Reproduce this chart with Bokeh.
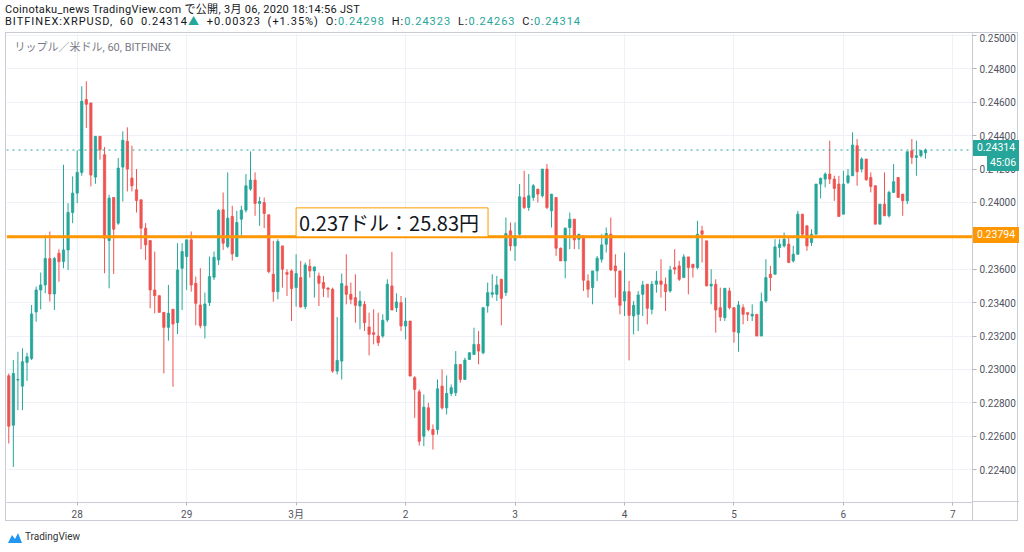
from bokeh.plotting import figure
from bokeh.models import Range1d, FixedTicker, NumeralTickFormatter, Span, Label, Div, ColumnDataSource
from bokeh.layouts import column
from bokeh.embed import file_html
from bokeh.resources import INLINE

# BITFINEX:XRPUSD hourly candles, Feb 27 09:00 .. Mar 6 18:00 (JST)
opens = [
    0.22962, 0.22666, 0.22936, 0.22900, 0.23042, 0.23066, 0.23344, 0.23476, 0.23506, 0.23664,
    0.23452, 0.23696, 0.23646, 0.23716, 0.23940, 0.24056, 0.24180, 0.24616, 0.24596, 0.24152,
    0.24396, 0.24286, 0.23772, 0.24030, 0.23876, 0.24212, 0.24366, 0.24146, 0.24076, 0.24016,
    0.23846, 0.23772, 0.23476, 0.23442, 0.23342, 0.23252, 0.23360, 0.23280, 0.23606, 0.23676,
    0.23776, 0.23516, 0.23386, 0.23262, 0.23400, 0.23552, 0.23656, 0.23956, 0.23736, 0.23916,
    0.23676, 0.23900, 0.23954, 0.24080, 0.24134, 0.23994, 0.24000, 0.23926, 0.23570, 0.23466,
    0.23740, 0.23580, 0.23590, 0.23490, 0.23550, 0.23376, 0.23618, 0.23590, 0.23560, 0.23520,
    0.23488, 0.23480, 0.22990, 0.23050, 0.23500, 0.23450, 0.23430, 0.23380, 0.23390, 0.23254,
    0.23220, 0.23200, 0.23200, 0.23296, 0.23500, 0.23370, 0.23400, 0.23260, 0.23290, 0.22950,
    0.22866, 0.22600, 0.22770, 0.22640, 0.22640, 0.22900, 0.22770, 0.22856, 0.22860, 0.23030,
    0.22940, 0.23060, 0.23090, 0.23150, 0.23100, 0.23380, 0.23450, 0.23450, 0.23540, 0.23460,
    0.23830, 0.23740, 0.23810, 0.24030, 0.23970, 0.24030, 0.24080, 0.24040, 0.24200, 0.23950,
    0.24030, 0.23726, 0.23650, 0.23850, 0.23900, 0.23780, 0.23800, 0.23530, 0.23490, 0.23590,
    0.23660, 0.23750, 0.23810, 0.23620, 0.23590, 0.23410, 0.23466, 0.23320, 0.23330, 0.23450,
    0.23510, 0.23360, 0.23510, 0.23530, 0.23510, 0.23470, 0.23610, 0.23620, 0.23550, 0.23674,
    0.23630, 0.23610, 0.23830, 0.23770, 0.23500, 0.23510, 0.23370, 0.23310, 0.23470, 0.23370,
    0.23220, 0.23370, 0.23340, 0.23320, 0.23330, 0.23200, 0.23410, 0.23570, 0.23570, 0.23730,
    0.23740, 0.23750, 0.23650, 0.23690, 0.23930, 0.23860, 0.23760, 0.23810, 0.24110, 0.24140,
    0.24170, 0.24140, 0.24110, 0.23930, 0.24120, 0.24160, 0.24340, 0.24200, 0.24260, 0.24150,
    0.24100, 0.23870, 0.23990, 0.23920, 0.24060, 0.24150, 0.24050, 0.24010, 0.24310, 0.24270,
    0.24280, 0.24298,
]
highs = [
    0.22975, 0.23056, 0.23106, 0.23126, 0.23100, 0.23386, 0.23496, 0.23580, 0.23806, 0.23826,
    0.23674, 0.23720, 0.24226, 0.23996, 0.24156, 0.24312, 0.24696, 0.24726, 0.24596, 0.24396,
    0.24396, 0.24332, 0.24046, 0.24030, 0.24266, 0.24426, 0.24450, 0.24340, 0.24200, 0.24016,
    0.23876, 0.23772, 0.23706, 0.23442, 0.23342, 0.23506, 0.23360, 0.23756, 0.23756, 0.23776,
    0.23826, 0.23556, 0.23606, 0.23460, 0.23676, 0.23706, 0.23960, 0.24060, 0.24180, 0.23980,
    0.23950, 0.23980, 0.24170, 0.24306, 0.24180, 0.24034, 0.24030, 0.23926, 0.23770, 0.23780,
    0.23740, 0.23600, 0.23600, 0.23690, 0.23650, 0.23640, 0.23660, 0.23614, 0.23580, 0.23560,
    0.23490, 0.23490, 0.23314, 0.23574, 0.23690, 0.23520, 0.23570, 0.23470, 0.23410, 0.23340,
    0.23360, 0.23340, 0.23330, 0.23540, 0.23704, 0.23456, 0.23440, 0.23430, 0.23290, 0.22960,
    0.22880, 0.22850, 0.22800, 0.22670, 0.22940, 0.23000, 0.22964, 0.22910, 0.23110, 0.23030,
    0.23070, 0.23100, 0.23250, 0.23230, 0.23370, 0.23520, 0.23570, 0.23560, 0.23540, 0.23910,
    0.23880, 0.23880, 0.24110, 0.24190, 0.24170, 0.24110, 0.24080, 0.24200, 0.24230, 0.24050,
    0.24030, 0.23730, 0.23850, 0.23940, 0.23900, 0.23810, 0.23800, 0.23570, 0.23590, 0.23680,
    0.23810, 0.23850, 0.23910, 0.23690, 0.23590, 0.23700, 0.23530, 0.23410, 0.23470, 0.23530,
    0.23510, 0.23530, 0.23590, 0.23660, 0.23550, 0.23620, 0.23720, 0.23650, 0.23690, 0.23674,
    0.23630, 0.23890, 0.23860, 0.23770, 0.23600, 0.23540, 0.23490, 0.23486, 0.23490, 0.23370,
    0.23410, 0.23390, 0.23340, 0.23390, 0.23330, 0.23460, 0.23660, 0.23620, 0.23780, 0.23780,
    0.23820, 0.23790, 0.23740, 0.23950, 0.23930, 0.23860, 0.23840, 0.24110, 0.24150, 0.24180,
    0.24370, 0.24160, 0.24160, 0.24190, 0.24200, 0.24420, 0.24380, 0.24270, 0.24260, 0.24180,
    0.24100, 0.23990, 0.24180, 0.24070, 0.24230, 0.24150, 0.24050, 0.24304, 0.24380, 0.24370,
    0.24315, 0.24323,
]
lows = [
    0.22556, 0.22416, 0.22756, 0.22756, 0.22932, 0.23056, 0.23286, 0.23360, 0.23456, 0.23406,
    0.23356, 0.23526, 0.23606, 0.23596, 0.23876, 0.23996, 0.24160, 0.24446, 0.24096, 0.24112,
    0.24256, 0.23576, 0.23486, 0.23572, 0.23866, 0.24006, 0.24066, 0.24066, 0.23940, 0.23720,
    0.23656, 0.23366, 0.23336, 0.23342, 0.22976, 0.23172, 0.22896, 0.23212, 0.23356, 0.23476,
    0.23466, 0.23264, 0.23246, 0.23186, 0.23380, 0.23536, 0.23626, 0.23716, 0.23726, 0.23652,
    0.23676, 0.23800, 0.23940, 0.24070, 0.23920, 0.23860, 0.23846, 0.23576, 0.23406, 0.23420,
    0.23490, 0.23440, 0.23290, 0.23376, 0.23370, 0.23360, 0.23550, 0.23430, 0.23380, 0.23434,
    0.23430, 0.22980, 0.22970, 0.22940, 0.23390, 0.23390, 0.23280, 0.23240, 0.23230, 0.23084,
    0.23150, 0.23140, 0.23190, 0.23284, 0.23356, 0.23344, 0.23230, 0.23180, 0.22960, 0.22710,
    0.22544, 0.22540, 0.22630, 0.22520, 0.22610, 0.22760, 0.22730, 0.22840, 0.22840, 0.22920,
    0.22940, 0.23060, 0.23090, 0.23030, 0.23090, 0.23340, 0.23430, 0.23410, 0.23264, 0.23440,
    0.23710, 0.23650, 0.23800, 0.23960, 0.23950, 0.24010, 0.24000, 0.24030, 0.23960, 0.23850,
    0.23680, 0.23650, 0.23546, 0.23720, 0.23720, 0.23720, 0.23470, 0.23430, 0.23390, 0.23530,
    0.23640, 0.23700, 0.23590, 0.23430, 0.23330, 0.23320, 0.23054, 0.23210, 0.23230, 0.23320,
    0.23270, 0.23330, 0.23460, 0.23430, 0.23350, 0.23460, 0.23570, 0.23530, 0.23550, 0.23450,
    0.23550, 0.23600, 0.23640, 0.23500, 0.23390, 0.23220, 0.23290, 0.23290, 0.23360, 0.23160,
    0.23106, 0.23270, 0.23290, 0.23290, 0.23200, 0.23200, 0.23400, 0.23470, 0.23570, 0.23670,
    0.23730, 0.23640, 0.23640, 0.23690, 0.23800, 0.23710, 0.23740, 0.23810, 0.24024, 0.24090,
    0.24110, 0.24010, 0.23916, 0.23930, 0.24110, 0.24160, 0.24100, 0.24180, 0.24130, 0.24060,
    0.23870, 0.23870, 0.23920, 0.23910, 0.24060, 0.24030, 0.23920, 0.23990, 0.24230, 0.24160,
    0.24270, 0.24263,
]
closes = [
    0.22660, 0.22976, 0.22940, 0.23046, 0.23076, 0.23332, 0.23476, 0.23506, 0.23664, 0.23452,
    0.23664, 0.23646, 0.23716, 0.23940, 0.24056, 0.24180, 0.24606, 0.24588, 0.24164, 0.24396,
    0.24316, 0.23786, 0.24026, 0.23840, 0.24206, 0.24372, 0.24200, 0.24100, 0.24012, 0.23846,
    0.23746, 0.23476, 0.23442, 0.23342, 0.23252, 0.23336, 0.23272, 0.23596, 0.23706, 0.23776,
    0.23506, 0.23396, 0.23262, 0.23392, 0.23556, 0.23672, 0.23952, 0.23756, 0.23906, 0.23692,
    0.23880, 0.23954, 0.24100, 0.24134, 0.23994, 0.24006, 0.23934, 0.23586, 0.23466, 0.23766,
    0.23600, 0.23570, 0.23484, 0.23574, 0.23374, 0.23626, 0.23590, 0.23614, 0.23516, 0.23486,
    0.23480, 0.22990, 0.23054, 0.23514, 0.23450, 0.23420, 0.23384, 0.23410, 0.23280, 0.23210,
    0.23210, 0.23160, 0.23294, 0.23510, 0.23356, 0.23404, 0.23260, 0.23290, 0.22960, 0.22880,
    0.22570, 0.22774, 0.22640, 0.22610, 0.22884, 0.22770, 0.22856, 0.22890, 0.23030, 0.22940,
    0.23056, 0.23100, 0.23150, 0.23110, 0.23370, 0.23460, 0.23460, 0.23506, 0.23426, 0.23814,
    0.23740, 0.23800, 0.24034, 0.23970, 0.24040, 0.24100, 0.24050, 0.24200, 0.23970, 0.24050,
    0.23726, 0.23650, 0.23846, 0.23900, 0.23776, 0.23810, 0.23534, 0.23480, 0.23590, 0.23666,
    0.23746, 0.23814, 0.23596, 0.23590, 0.23384, 0.23466, 0.23324, 0.23384, 0.23446, 0.23506,
    0.23366, 0.23510, 0.23530, 0.23510, 0.23466, 0.23596, 0.23600, 0.23540, 0.23674, 0.23610,
    0.23610, 0.23810, 0.23810, 0.23500, 0.23510, 0.23356, 0.23314, 0.23486, 0.23370, 0.23226,
    0.23386, 0.23330, 0.23330, 0.23330, 0.23200, 0.23406, 0.23550, 0.23550, 0.23734, 0.23750,
    0.23780, 0.23640, 0.23690, 0.23930, 0.23810, 0.23740, 0.23810, 0.24110, 0.24144, 0.24170,
    0.24140, 0.24084, 0.23916, 0.24110, 0.24160, 0.24344, 0.24184, 0.24260, 0.24136, 0.24096,
    0.23870, 0.23990, 0.23920, 0.24060, 0.24124, 0.24030, 0.24010, 0.24304, 0.24270, 0.24280,
    0.24310, 0.24314,
]

day_labels = ["28", "29", "3月", "2", "3", "4", "5", "6", "7"]
first_midnight = 15          # candle index of Feb 28 00:00
price_ticks = [0.224, 0.226, 0.228, 0.230, 0.232, 0.234, 0.236, 0.238,
               0.240, 0.242, 0.244, 0.246, 0.248, 0.250]
level_price = 0.23794
level_text = "0.237ドル：25.83円"
last_price = 0.24314
change_abs = "+0.00323"
change_pct = "+1.35%"
countdown = "45:06"
symbol_title = "リップル／米ドル, 60, BITFINEX"

UP = "#26a69a"
DOWN = "#ef5350"
ORANGE = "#ff9800"
FRAME_LINE = "#c9ccd4"

n = len(closes)
xs = list(range(n))
colors = [UP if c >= o else DOWN for o, c in zip(opens, closes)]
src = ColumnDataSource(dict(
    x=xs, high=highs, low=lows,
    top=[max(o, c) for o, c in zip(opens, closes)],
    bottom=[min(o, c) for o, c in zip(opens, closes)],
    color=colors,
))

# layout geometry (page pixels)
HEADER_H = 32
LEFT_MARGIN = 5
FRAME_W, FRAME_H = 966, 470
AXIS_R, AXIS_B = 47, 19
X0, X1 = -0.5, 211.3
Y0, Y1 = 0.22203, 0.25012
px_x = (X1 - X0) / FRAME_W
px_y = (Y1 - Y0) / FRAME_H

p = figure(width=FRAME_W + AXIS_R, height=FRAME_H + AXIS_B,
           x_range=Range1d(X0, X1), y_range=Range1d(Y0, Y1),
           y_axis_location="right", output_backend="svg", toolbar_location=None,
           min_border_left=0, min_border_top=0, min_border_right=AXIS_R,
           min_border_bottom=AXIS_B, background_fill_color="white",
           border_fill_color="white", outline_line_color=None,
           margin=(0, 0, 0, LEFT_MARGIN))
p.styles = {"border": f"1px solid {FRAME_LINE}"}

day_ticks = [first_midnight + 24 * k for k in range(len(day_labels))]
p.xaxis.ticker = FixedTicker(ticks=day_ticks)
p.xaxis.major_label_overrides = {t: lab for t, lab in zip(day_ticks, day_labels)}
p.yaxis.ticker = FixedTicker(ticks=price_ticks)
p.yaxis.formatter = NumeralTickFormatter(format="0.00000")

for ax in (p.xaxis[0], p.yaxis[0]):
    ax.axis_line_color = FRAME_LINE
    ax.major_tick_line_color = "#b2b5be"
    ax.minor_tick_line_color = None
    ax.major_tick_in = 0
    ax.major_tick_out = 4
    ax.major_label_text_font = "Roboto, 'Noto Sans CJK JP'"
    ax.major_label_text_font_size = "10px"
    ax.major_label_text_color = "#50535e"
    ax.major_label_standoff = 3
p.xaxis.major_tick_out = 3

p.grid.grid_line_color = "#eef1f6"
p.grid.grid_line_width = 1

p.segment(x0="x", y0="high", x1="x", y1="low", line_color="color", line_width=1, source=src)
p.vbar(x="x", width=0.5, top="top", bottom="bottom", fill_color="color",
       line_color="color", line_width=0.8, source=src)

p.add_layout(Span(location=last_price, dimension="width", line_color=UP,
                  line_width=1, line_dash="dotted"))
p.add_layout(Span(location=level_price, dimension="width", line_color=ORANGE,
                  line_width=3))

p.add_layout(Label(x=X0 + 8 * px_x, y=Y1 - 14 * px_y, text=symbol_title,
                   text_font="Roboto, 'Noto Sans CJK JP'", text_font_size="11px",
                   text_color="#787b86", text_baseline="middle", text_align="left"))

p.add_layout(Label(x=first_midnight + 48, y=level_price, text=level_text,
                   text_font="'Noto Sans CJK JP'", text_font_size="20px",
                   text_color="#131722", text_baseline="bottom", text_align="left",
                   background_fill_color="white", border_line_color=ORANGE,
                   border_line_width=1,
                   padding=dict(left=3, right=9, top=0, bottom=0)))

teal = lambda s: f"<span style='color:{UP}'>{s}</span>"
header_html = (
    "<div style=\"font-family: Roboto, 'Noto Sans CJK JP', sans-serif; font-size:11px;"
    " color:#131722; white-space:nowrap; padding-left:5px; padding-top:4px;\">"
    "<div style='height:12px; line-height:12px; letter-spacing:0.3px;'>"
    "Coinotaku_news TradingView.com で公開, 3月 06, 2020 18:14:56 JST</div>"
    "<div style='height:12px; line-height:12px; letter-spacing:1px; word-spacing:3px;'>"
    f"BITFINEX:XRPUSD, 60 {closes[-1]:.5f}{teal('▲')} {change_abs} ({change_pct}) "
    f"O:{teal(f'{opens[-1]:.5f}')} H:{teal(f'{highs[-1]:.5f}')} "
    f"L:{teal(f'{lows[-1]:.5f}')} C:{teal(f'{closes[-1]:.5f}')}</div>"
    "</div>"
)
header = Div(text=header_html, width=1016, height=HEADER_H, margin=(0, 0, 0, 0))

# price-scale badges drawn as an overlay positioned from the same scale
frame_top = HEADER_H + 1
frame_left = LEFT_MARGIN + 1
frame_right = frame_left + FRAME_W
footer_top = HEADER_H + FRAME_H + AXIS_B + 2


def price_to_page_y(v):
    return frame_top + (Y1 - v) / px_y


def badge(center_y, left, text, bg, width):
    top = center_y - 8 - footer_top
    return (f"<div style=\"position:absolute; left:{left:.1f}px; top:{top:.1f}px;"
            f" width:{width}px; height:16px; line-height:16px; background:{bg};"
            f" color:white; font-family:Roboto, sans-serif; font-size:10.5px;"
            f" text-align:center; z-index:10;\">{text}</div>")


badges = (
    badge(price_to_page_y(level_price), frame_right + 1, f"{level_price:.5f}", ORANGE, 46)
    + badge(price_to_page_y(last_price), frame_right + 1, f"{closes[-1]:.5f}", UP, 46)
    + badge(price_to_page_y(last_price) + 15, frame_right + 15, countdown, UP, 32)
    + f"<div style='position:absolute; left:{frame_right}px; top:{frame_top + FRAME_H - footer_top}px;"
      f" width:1px; height:{AXIS_B}px; background:{FRAME_LINE};'></div>"
    + f"<div style='position:absolute; left:{frame_right}px; top:{frame_top + FRAME_H - footer_top}px;"
      f" width:{AXIS_R}px; height:1px; background:{FRAME_LINE};'></div>"
)

footer_html = (
    "<div style='position:relative; width:0; height:0;'>" + badges + "</div>"
    "<div style=\"font-family: Roboto, sans-serif; font-size:10px; color:#333;"
    " white-space:nowrap; display:flex; align-items:center; margin-top:9px; margin-left:8px;\">"
    "<svg width='14' height='11' viewBox='0 0 14 11' style='margin-right:3px'>"
    "<path d='M0 11 L4 3 L7 7 L10 1 L14 11 Z' fill='#2196f3'/></svg>TradingView</div>"
)
footer = Div(text=footer_html, width=300, height=25, margin=(0, 0, 0, 0),
             styles={"overflow": "visible", "z-index": "10"})

layout = column(header, p, footer, spacing=0)
open("out.html", "w").write(file_html(layout, INLINE))
